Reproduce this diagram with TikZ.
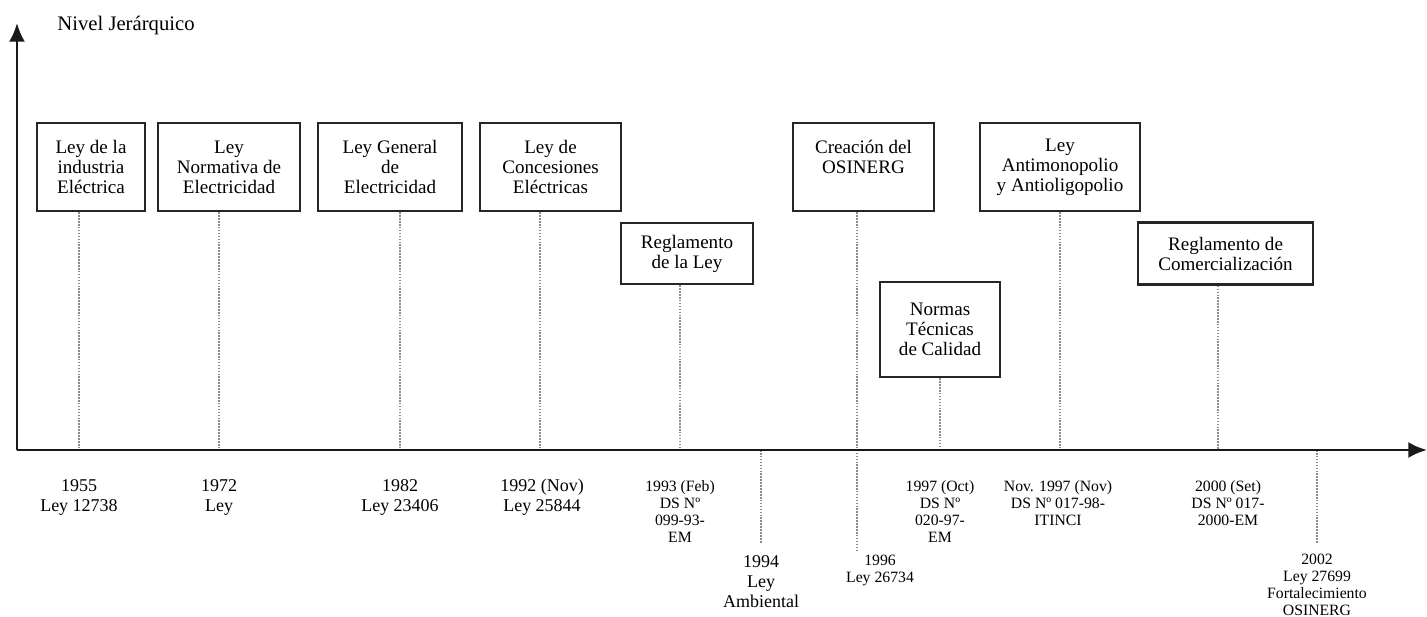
\documentclass[tikz,border=0pt]{standalone}
\usepackage{fontspec}
\setmainfont{Liberation Serif}
\usetikzlibrary{arrows.meta}
\begin{document}
\begin{tikzpicture}[x=0.75pt,y=-0.75pt,
  lawbox/.style={draw=black!85, line width=1.8pt, align=center, inner sep=0pt,
    font=\fontsize{14.3}{15}\selectfont},
  axisline/.style={line width=2pt, draw=black!90, -{Latex[length=14pt,width=12pt]}},
  guide/.style={draw=black!45, line width=0.8pt, dash pattern=on 1.2pt off 1pt},
  biglabel/.style={align=center, inner sep=0pt, font=\fontsize{13.5}{15}\selectfont},
  smalllabel/.style={align=center, inner sep=0pt, font=\fontsize{11.8}{12.75}\selectfont},
]
\useasboundingbox (0,0) rectangle (1427,617);

% axes
\coordinate (o) at (17,450);
\coordinate (ytip) at (17,23);
\coordinate (xtip) at (1427,450);
\node[font=\fontsize{15.5}{17}\selectfont, inner sep=0pt] (title) at (126,26) {Nivel Jerárquico};

% tick positions on the time axis
\coordinate (t1) at (79,450);
\coordinate (t2) at (219,450);
\coordinate (t3) at (400,450);
\coordinate (t4) at (540,450);
\coordinate (t5) at (680,450);
\coordinate (t6) at (761,450);
\coordinate (t7) at (857,450);
\coordinate (t8) at (940,450);
\coordinate (t9) at (1060,450);
\coordinate (t10) at (1218,450);
\coordinate (t11) at (1317,450);

% lower ends of the guides crossing the axis
\coordinate (e6) at (761,543);
\coordinate (e7) at (857,550);
\coordinate (e11) at (1317,543);

% norms
\node[lawbox, minimum width=81pt, minimum height=66pt] (b1) at (91,167) {Ley de la\\industria\\Eléctrica};
\node[lawbox, minimum width=106.5pt, minimum height=66pt] (b2) at (229,167) {Ley\\Normativa de\\Electricidad};
\node[lawbox, minimum width=108pt, minimum height=66pt] (b3) at (390,167) {Ley General\\de\\Electricidad};
\node[lawbox, minimum width=105.75pt, minimum height=66pt] (b4) at (550.5,167) {Ley de\\Concesiones\\Eléctricas};
\node[lawbox, minimum width=99pt, minimum height=45.75pt] (b5) at (687,253.5) {Reglamento\\de la Ley};
\node[lawbox, minimum width=105.75pt, minimum height=66pt] (b6) at (863.5,167) {Creación del\\OSINERG\\~};
\node[lawbox, minimum width=90pt, minimum height=71.25pt] (b7) at (940,329.5) {Normas\\Técnicas\\de Calidad};
\node[lawbox, minimum width=120pt, minimum height=66pt] (b8) at (1060,167) {Ley\\Antimonopolio\\y Antioligopolio};
\node[lawbox, minimum width=131.25pt, minimum height=46.5pt] (b9) at (1225.5,253.5) {Reglamento de\\Comercialización};

% guides from each norm to its date
\draw[guide] (b1.south -| t1) -- (t1);
\draw[guide] (b2.south -| t2) -- (t2);
\draw[guide] (b3.south -| t3) -- (t3);
\draw[guide] (b4.south -| t4) -- (t4);
\draw[guide] (b5.south -| t5) -- (t5);
\draw[guide] (t6) -- (e6);
\draw[guide] (b6.south -| t7) -- (e7);
\draw[guide] (b7.south -| t8) -- (t8);
\draw[guide] (b8.south -| t9) -- (t9);
\draw[guide] (b9.south -| t10) -- (t10);
\draw[guide] (t11) -- (e11);

\draw[axisline] (o) -- (ytip);
\draw[axisline] (o) -- (xtip);

% dates
\node[biglabel] (l1) at (79,497) {1955\\Ley 12738};
\node[biglabel] (l2) at (219,497) {1972\\Ley};
\node[biglabel] (l3) at (400,497) {1982\\Ley 23406};
\node[biglabel] (l4) at (542,497) {1992 (Nov)\\Ley 25844};
\node[smalllabel] (l5) at (680,512) {1993 (Feb)\\DS Nº\\099-93-\\EM};
\node[biglabel] (l6) at (761,582) {1994\\Ley\\Ambiental};
\node[smalllabel] (l7) at (880,570) {1996\\Ley 26734};
\node[smalllabel] (l8) at (940,512) {1997 (Oct)\\DS Nº\\020-97-\\EM};
\node[smalllabel] (l9) at (1058,503) {Nov. 1997 (Nov)\\DS Nº 017-98-\\ITINCI};
\node[smalllabel] (l10) at (1228,503) {2000 (Set)\\DS Nº 017-\\2000-EM};
\node[smalllabel] (l11) at (1317,585) {2002\\Ley 27699\\Fortalecimiento\\OSINERG};
\end{tikzpicture}
\end{document}
